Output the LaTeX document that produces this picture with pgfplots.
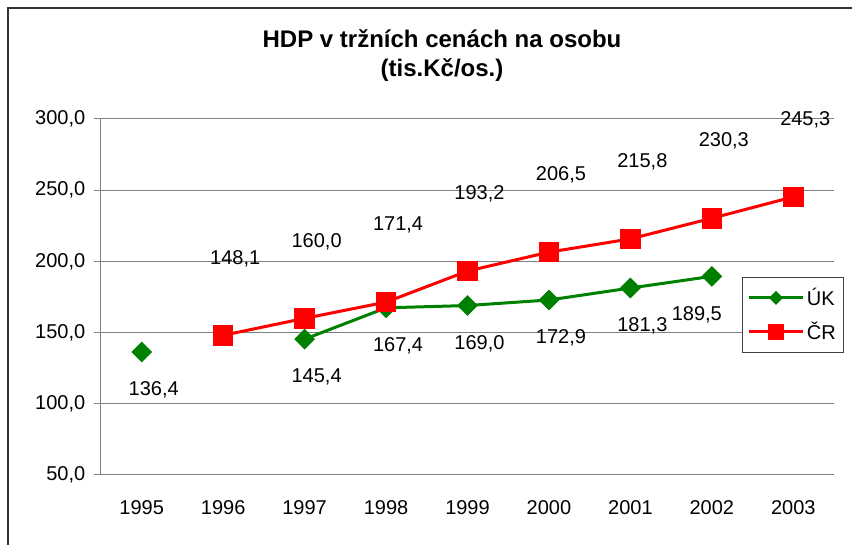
\documentclass[border=0pt]{standalone}
\usepackage{fontspec}
\setmainfont{Liberation Sans}
\usepackage{pgfplots}
\usepackage{pgfplotstable}
\pgfplotsset{compat=1.18}

\definecolor{ukgreen}{HTML}{008000}
\definecolor{crred}{HTML}{FF0000}
\definecolor{gridgray}{HTML}{808080}

\pgfplotsset{
    ukleg/.style={legend image code/.code={\draw[##1, mark repeat=2, mark phase=2, mark size=2.6pt]
        plot coordinates {(0pt,0pt) (20pt,0pt) (40pt,0pt)};}},
    crleg/.style={legend image code/.code={\draw[##1, mark repeat=2, mark phase=2, mark size=5pt]
        plot coordinates {(0pt,0pt) (20pt,0pt) (40pt,0pt)};}},
}

% HDP per capita, ÚK vs. ČR (1995 = 0 ... 2003 = 8)
\pgfplotstableread{
x y dx
0 136.4 9
1 nan 9
2 145.4 9
3 167.4 9
4 169.0 9
5 172.9 9
6 181.3 9
7 189.5 -11.25
}\datauk
\pgfplotstableread{
x y
1 148.1
2 160.0
3 171.4
4 193.2
5 206.5
6 215.8
7 230.3
8 245.3
}\datacr

\begin{document}
\begin{tikzpicture}
\useasboundingbox (-75.75pt,-52.5pt) rectangle (563.25pt,356.25pt);
\draw[black!80, line width=1.2pt] (-69.75pt,-70pt) -- (-69.75pt,350.25pt) -- (580pt,350.25pt);
\node[font=\bfseries\fontsize{18}{21.75}\selectfont, align=center] at (255.75pt,314.5pt)
  {HDP v tržních cenách na osobu\\(tis.Kč/os.)};
\begin{axis}[
    scale only axis,
    width=549.75pt, height=267pt,
    xmin=-0.5, xmax=8.5,
    ymin=50, ymax=300,
    axis x line*=bottom, axis y line*=left,
    axis line style={gridgray, line width=0.75pt, -},
    xtick={0,1,2,3,4,5,6,7,8},
    xticklabels={1995,1996,1997,1998,1999,2000,2001,2002,2003},
    major x tick style={draw=none},
    extra x ticks={-0.5,0.5,1.5,2.5,3.5,4.5,5.5,6.5,7.5,8.5},
    extra x tick labels={},
    extra x tick style={grid=none, tick style={draw=gridgray, line width=0.75pt}},
    ytick={50,100,150,200,250,300},
    ymajorgrids,
    grid style={gridgray, line width=0.75pt},
    tick align=outside,
    major tick length=5.25pt,
    y tick style={gridgray, line width=0.75pt},
    tick label style={font=\fontsize{15}{18}\selectfont, black},
    xticklabel style={yshift=-10pt},
    yticklabel style={xshift=-3pt},
    unbounded coords=jump,
    legend cell align=left,
    legend style={at={(0.8745,0.556)}, anchor=north west,
        draw=black!75, line width=0.75pt, fill=white,
        font=\fontsize{15}{18}\selectfont,
        row sep=7pt, inner xsep=4pt, inner ysep=6pt},
    nodes near coords style={font=\fontsize{15}{18}\selectfont, anchor=center, black},
    /pgf/number format/.cd, fixed, fixed zerofill, precision=1, use comma, assume math mode=true
]
\addplot[ukgreen, line width=2.25pt, mark=square*, mark size=4.4pt,
    mark options={rotate=45, solid},
    nodes near coords, point meta=y,
    visualization depends on={\thisrow{dx} \as \dx},
    every node near coord/.append style={xshift=\dx, yshift=-28.5pt},
    ukleg]
    table[x=x, y=y] {\datauk};
\addlegendentry{ÚK}
\addplot[crred, line width=2.25pt, mark=square*, mark size=6.6pt, mark options={solid},
    nodes near coords, point meta=y,
    every node near coord/.append style={xshift=9pt, yshift=57.75pt},
    crleg]
    table[x=x, y=y] {\datacr};
\addlegendentry{ČR}
\end{axis}
\end{tikzpicture}
\end{document}
